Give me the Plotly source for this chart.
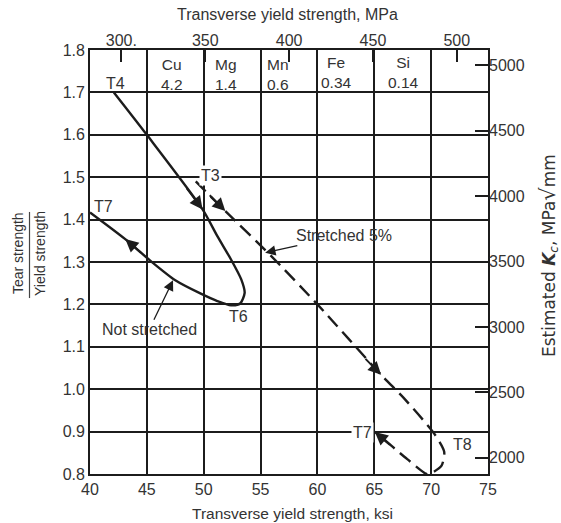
import plotly.graph_objects as go

# ---------------- data ----------------
# "Not stretched" path: T4 -> T6 -> T7 (ksi, tear/yield ratio)
solid_x = [42.1, 45.0, 49.9, 51.2, 52.4, 53.3, 53.6, 53.2, 52.4, 51.2, 49.7, 47.5, 45.35, 43.1, 40.0]
solid_y = [1.70, 1.60, 1.424, 1.361, 1.306, 1.259, 1.227, 1.202, 1.198, 1.208, 1.226, 1.257, 1.302, 1.354, 1.417]

# "Stretched 5%" path: T3 -> T8 -> T7
dash_x = [49.3, 51.9, 55.9, 60.0, 65.6, 67.7, 70.3, 71.15, 70.9, 70.0, 69.6, 67.9, 65.3, 65.0]
dash_y = [1.49, 1.42, 1.315, 1.20, 1.034, 0.976, 0.894, 0.852, 0.819, 0.802, 0.800, 0.835, 0.894, 0.900]

# direction arrows on the paths: (tip x, tip y, tail x, tail y)
arrow_marks = [
    (49.9, 1.424, 48.4, 1.478),
    (43.1, 1.354, 44.6, 1.319),
    (51.9, 1.420, 50.4, 1.461),
    (65.6, 1.034, 64.1, 1.075),
    (65.05, 0.899, 66.5, 0.866),
]

# temper labels
temper_text = ["T4", "T7", "T6", "T3", "T7", "T8"]
temper_x = [42.2, 41.2, 53.1, 50.57, 63.95, 72.8]
temper_y = [1.72, 1.432, 1.172, 1.505, 0.897, 0.869]
temper_bg = [False, False, False, True, True, False]

# composition table (top row)
elements = ["Cu", "Mg", "Mn", "Fe", "Si"]
contents = ["4.2", "1.4", "0.6", "0.34", "0.14"]
table_label_x = [47.2, 52.0, 55.35, 61.7, 67.6]
table_label_y = [1.743, 1.743, 1.743, 1.747, 1.747]
table_align = ["center", "center", "left", "center", "center"]

# axes ticks
ksi_ticks = [40, 45, 50, 55, 60, 65, 70, 75]
ratio_ticks = [0.8, 0.9, 1.0, 1.1, 1.2, 1.3, 1.4, 1.5, 1.6, 1.7, 1.8]
mpa_ticks = [300, 350, 400, 450, 500]
mpa_labels = ["300.", "350", "400", "450", "500"]
kc_ticks = [2000, 2500, 3000, 3500, 4000, 4500, 5000]

FONT = "Liberation Sans, Arial, sans-serif"
INK = "#1c1c1c"
TXT = "#333333"

fig = go.Figure()

fig.add_trace(go.Scatter(x=solid_x, y=solid_y, mode="lines",
                         line=dict(color=INK, width=2.4, shape="spline", smoothing=0.7),
                         hoverinfo="skip", showlegend=False, cliponaxis=False))
fig.add_trace(go.Scatter(x=dash_x, y=dash_y, mode="lines",
                         line=dict(color=INK, width=2.4, shape="spline", smoothing=0.7,
                                   dash="14px,7px"),
                         hoverinfo="skip", showlegend=False, cliponaxis=False))
# register secondary axes
fig.add_trace(go.Scatter(x=mpa_ticks, y=kc_ticks[:len(mpa_ticks)], xaxis="x2", yaxis="y2",
                         mode="markers", marker=dict(opacity=0), hoverinfo="skip",
                         showlegend=False))

ann = []
for tx, ty, sx, sy in arrow_marks:
    ann.append(dict(x=tx, y=ty, ax=sx, ay=sy, xref="x", yref="y", axref="x", ayref="y",
                    text="", showarrow=True, arrowhead=2, arrowsize=1.3, arrowwidth=2,
                    arrowcolor=INK, standoff=0))

for t, x, y, bg in zip(temper_text, temper_x, temper_y, temper_bg):
    ann.append(dict(x=x, y=y, xref="x", yref="y", text=t, showarrow=False,
                    font=dict(family=FONT, size=16, color=TXT),
                    bgcolor="white" if bg else "rgba(0,0,0,0)", borderpad=1))

for e, c, x, y, al in zip(elements, contents, table_label_x, table_label_y, table_align):
    ann.append(dict(x=x, y=y, xref="x", yref="y", text=f"{e}<br>{c}", showarrow=False,
                    align=al, xanchor="left" if al == "left" else "center", yanchor="middle",
                    font=dict(family=FONT, size=15.5, color=TXT)))

# pointer labels
ann.append(dict(x=47.3, y=1.257, ax=45.2, ay=1.14, xref="x", yref="y", axref="x", ayref="y",
                text="Not stretched", showarrow=True, arrowhead=2, arrowsize=1.6,
                arrowwidth=1.3, arrowcolor=INK, standoff=0,
                font=dict(family=FONT, size=16, color=TXT)))
ann.append(dict(x=55.4, y=1.322, ax=62.3, ay=1.362, xref="x", yref="y", axref="x", ayref="y",
                text="Stretched 5%", showarrow=True, arrowhead=2, arrowsize=1.6,
                arrowwidth=1.3, arrowcolor=INK, standoff=0,
                font=dict(family=FONT, size=16, color=TXT)))

# axis titles
def title(text, x, y, angle=0, size=16, family=FONT):
    return dict(x=x, y=y, xref="paper", yref="paper", showarrow=False, textangle=angle,
                xanchor="center", yanchor="middle", text=text,
                font=dict(family=family, size=size, color=TXT))

ann.append(title("Transverse yield strength, MPa", 0.497, 1.083))
ann.append(title("Transverse yield strength, ksi", 0.51, -0.092, size=15.5))
ann.append(title("Estimated <b><i>K</i></b><sub><i>c</i></sub>, MPa<span style='font-size:21px'>√</span>mm",
                 1.153, 0.516, -90, size=17, family="DejaVu Sans"))
ann.append(title("Tear strength", -0.181, 0.521, -90, size=14))
ann.append(title("Yield strength", -0.126, 0.521, -90, size=14))

shapes = [dict(type="line", xref="paper", yref="paper", x0=-0.152, x1=-0.152, y0=0.415, y1=0.618,
               line=dict(color="#444", width=1.2))]

tickfont = dict(family=FONT, size=16, color=TXT)

fig.update_layout(
    width=561, height=523,
    margin=dict(l=90, r=73, t=50, b=49),
    paper_bgcolor="white", plot_bgcolor="white",
    showlegend=False,
    annotations=ann, shapes=shapes,
    xaxis=dict(range=[40, 75], tickvals=ksi_ticks, ticktext=[str(v) for v in ksi_ticks],
               showgrid=True, gridcolor=INK, gridwidth=1.5, showline=True, linecolor=INK,
               linewidth=1.8, mirror=True, zeroline=False, ticks="", tickfont=tickfont),
    yaxis=dict(range=[0.8, 1.8], tickvals=ratio_ticks, ticktext=[f"{v:.1f}" for v in ratio_ticks],
               showgrid=True, gridcolor=INK, gridwidth=1.5, showline=True, linecolor=INK,
               linewidth=1.8, mirror=True, zeroline=False, ticks="", tickfont=tickfont),
    xaxis2=dict(overlaying="x", side="top", range=[281.3, 518.6], tickvals=mpa_ticks,
                ticktext=mpa_labels, ticks="inside", ticklen=12, tickwidth=1.5,
                tickcolor=INK, showgrid=False, showline=False, zeroline=False, tickfont=tickfont),
    yaxis2=dict(overlaying="y", side="right", range=[1876, 5118], tickvals=kc_ticks,
                ticktext=[str(v) for v in kc_ticks], ticks="inside", ticklen=13, tickwidth=1.5,
                tickcolor=INK, showgrid=False, showline=False, zeroline=False, tickfont=tickfont),
)

fig.write_html("out.html")
